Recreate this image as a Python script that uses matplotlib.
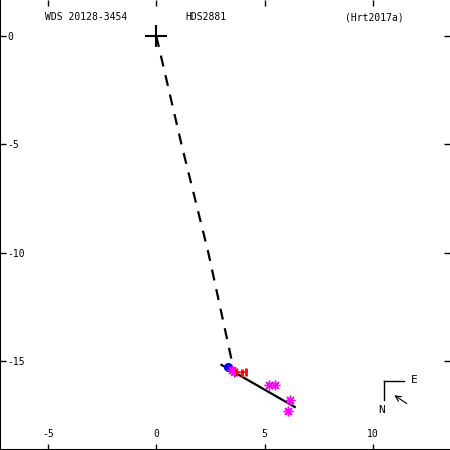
import matplotlib
matplotlib.use('Agg')
import matplotlib.pyplot as plt

plt.rcParams["axes.unicode_minus"] = False

# ── data ──────────────────────────────────────────────────────
orbit_x = [0.0, 1.16, 2.4, 3.57]     # dashed line from primary
orbit_y = [0.0, -5.0, -10.0, -15.4]
node_x = [3.01, 6.39]                # solid line
node_y = [-15.19, -17.13]
blue_x, blue_y = [3.3], [-15.3]
mag_x = [3.5, 3.6, 5.19, 5.46, 6.16, 6.06]
mag_y = [-15.42, -15.5, -16.1, -16.1, -16.8, -17.31]
red_x = [3.7, 3.95, 4.15]
red_y = [-15.5, -15.55, -15.5]
xticks = [-5, 0, 5, 10]
yticks = [0, -5, -10, -15]

FONT = "DejaVu Sans Mono"
FS = 7

fig = plt.figure(figsize=(4.5, 4.5), dpi=100, facecolor="white")
ax = fig.add_axes([0, 0, 1, 1])
ax.set_xlim(-7.22, 13.56)
ax.set_ylim(-19.12, 1.67)

ax.plot(orbit_x, orbit_y, color="black", lw=1.6, ls=(0, (5, 4)))
ax.plot(node_x, node_y, color="black", lw=1.6)
ax.plot([0], [0], marker="+", ms=16, mew=1.5, color="black")
ax.plot(blue_x, blue_y, "o", color="blue", ms=5.5)
ax.plot(mag_x, mag_y, ls="none", marker=(8, 2, 0), color="magenta",
        ms=7, mew=1)
ax.plot(red_x, red_y, ls="none", marker="|", color="red", ms=6, mew=2)
ax.plot(red_x, red_y, color="red", lw=1.2)

# spines / ticks
ax.spines["top"].set_visible(False)
ax.spines["right"].set_visible(False)
ax.spines["left"].set_linewidth(1.5)
ax.spines["bottom"].set_linewidth(1.5)
ax.set_xticks(xticks)
ax.set_yticks(yticks)
ax.set_xticklabels([str(v) for v in xticks], fontfamily=FONT, fontsize=FS)
ax.set_yticklabels([str(v) for v in yticks], fontfamily=FONT, fontsize=FS)
ax.tick_params(axis="both", direction="in", length=4, width=1,
               top=True, right=True)
ax.tick_params(axis="x", pad=-8)
ax.tick_params(axis="y", pad=-5)
for lab in ax.get_yticklabels():
    lab.set_ha("left")
for lab in ax.get_xticklabels():
    lab.set_va("bottom")

# header
ax.text(0.1, 0.962, "WDS 20128-3454", transform=ax.transAxes,
        fontfamily=FONT, fontsize=FS, va="center")
ax.text(0.411, 0.962, "HDS2881", transform=ax.transAxes,
        fontfamily=FONT, fontsize=FS, va="center")
ax.text(0.767, 0.962, "(Hrt2017a)", transform=ax.transAxes,
        fontfamily=FONT, fontsize=FS, va="center")

# compass
ax.plot([0.853, 0.853], [0.153, 0.111], color="black", lw=1,
        transform=ax.transAxes)
ax.plot([0.853, 0.898], [0.153, 0.153], color="black", lw=1,
        transform=ax.transAxes)
ax.text(0.913, 0.156, "E", transform=ax.transAxes, fontfamily=FONT,
        fontsize=FS + 1, va="center")
ax.text(0.849, 0.089, "N", transform=ax.transAxes, fontfamily=FONT,
        fontsize=FS + 1, va="center", ha="center")
ax.annotate("", xy=(0.871, 0.125), xytext=(0.909, 0.1),
            xycoords="axes fraction",
            arrowprops=dict(arrowstyle="->", lw=0.8, color="black"))

fig.savefig("out.png", dpi=100, facecolor="white")
